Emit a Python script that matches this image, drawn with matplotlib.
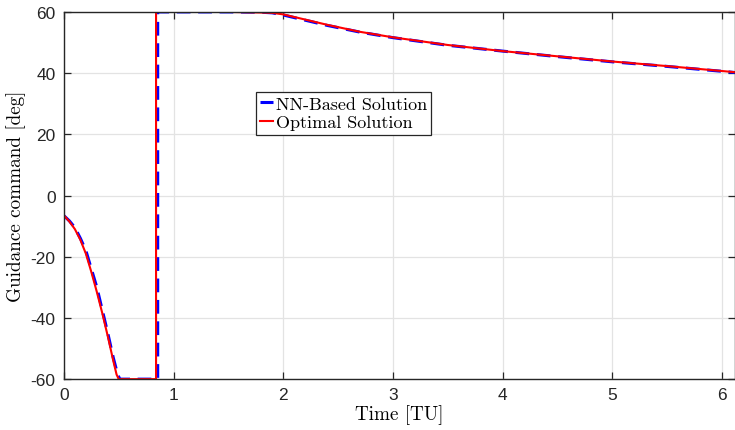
import numpy as np
import matplotlib
matplotlib.use('Agg')
import matplotlib.pyplot as plt

plt.rcParams['axes.unicode_minus'] = False

# Optimal solution
t_opt = [0.0, 0.05, 0.1, 0.15, 0.2, 0.25, 0.3, 0.35, 0.4, 0.45, 0.48, 0.5,
         0.84, 0.84, 1.5, 1.8, 1.9, 2.0, 2.2, 2.4, 2.7, 3.0, 3.5, 4.0,
         4.5, 5.0, 5.5, 6.0, 6.12]
u_opt = [-6.5, -8.5, -11.0, -14.5, -19.0, -25.0, -31.5, -38.5, -46.0, -54.0, -58.5, -60.0,
         -60.0, 60.0, 60.0, 59.8, 59.7, 59.2, 57.5, 55.8, 53.5, 51.7, 49.2, 47.2,
         45.5, 43.8, 42.3, 40.7, 40.3]

# NN-based solution
t_nn = [0.0, 0.05, 0.1, 0.15, 0.2, 0.25, 0.3, 0.35, 0.4, 0.45, 0.49, 0.51,
        0.855, 0.855, 1.5, 1.8, 1.9, 2.0, 2.2, 2.4, 2.7, 3.0, 3.5, 4.0,
        4.5, 5.0, 5.5, 6.0, 6.12]
u_nn = [-6.6, -8.3, -10.5, -14.0, -18.0, -24.0, -30.0, -37.5, -45.0, -53.0, -58.5, -60.0,
        -60.0, 60.0, 60.0, 59.9, 59.7, 59.0, 57.3, 55.6, 53.4, 51.6, 49.1, 47.2,
        45.4, 43.7, 42.2, 40.6, 40.2]

fig = plt.figure(figsize=(7.35, 4.31), dpi=100)
ax = fig.add_axes([0.087, 0.118, 0.913, 0.852])

ax.plot(t_nn, u_nn, color=(0, 0, 1), lw=2.2, ls='--', dashes=(4.5, 2.5),
        label='NN-Based Solution')
ax.plot(t_opt, u_opt, color=(1, 0, 0), lw=1.5, label='Optimal Solution')

ax.set_xlim(0, 6.12)
ax.set_ylim(-60, 60)
ax.set_xticks([0, 1, 2, 3, 4, 5, 6])
ax.set_yticks([-60, -40, -20, 0, 20, 40, 60])
ax.grid(True, color='#e3e3e3', lw=0.9)
ax.set_axisbelow(True)

for s in ax.spines.values():
    s.set_color('#262626')
    s.set_linewidth(1.0)

ax.tick_params(direction='in', top=True, right=True, length=5, width=0.9,
               color='#262626', labelsize=12.5, labelcolor='#262626', pad=6)
for lab in ax.get_xticklabels() + ax.get_yticklabels():
    lab.set_fontfamily('Liberation Sans')

ax.set_xlabel('Time [TU]', fontfamily='cmr10', fontsize=13.8, labelpad=1)
ax.set_ylabel('Guidance command [deg]', fontfamily='cmr10', fontsize=13.8, labelpad=3)

leg = ax.legend(loc='upper left', bbox_to_anchor=(0.286, 0.783), borderaxespad=0,
                prop={'family': 'cmr10', 'size': 13}, handlelength=0.7,
                handletextpad=0.15, borderpad=0.25, labelspacing=0.15,
                fancybox=False, framealpha=1, edgecolor='#262626')
leg.get_frame().set_linewidth(0.9)

fig.savefig('out.png', dpi=100)
